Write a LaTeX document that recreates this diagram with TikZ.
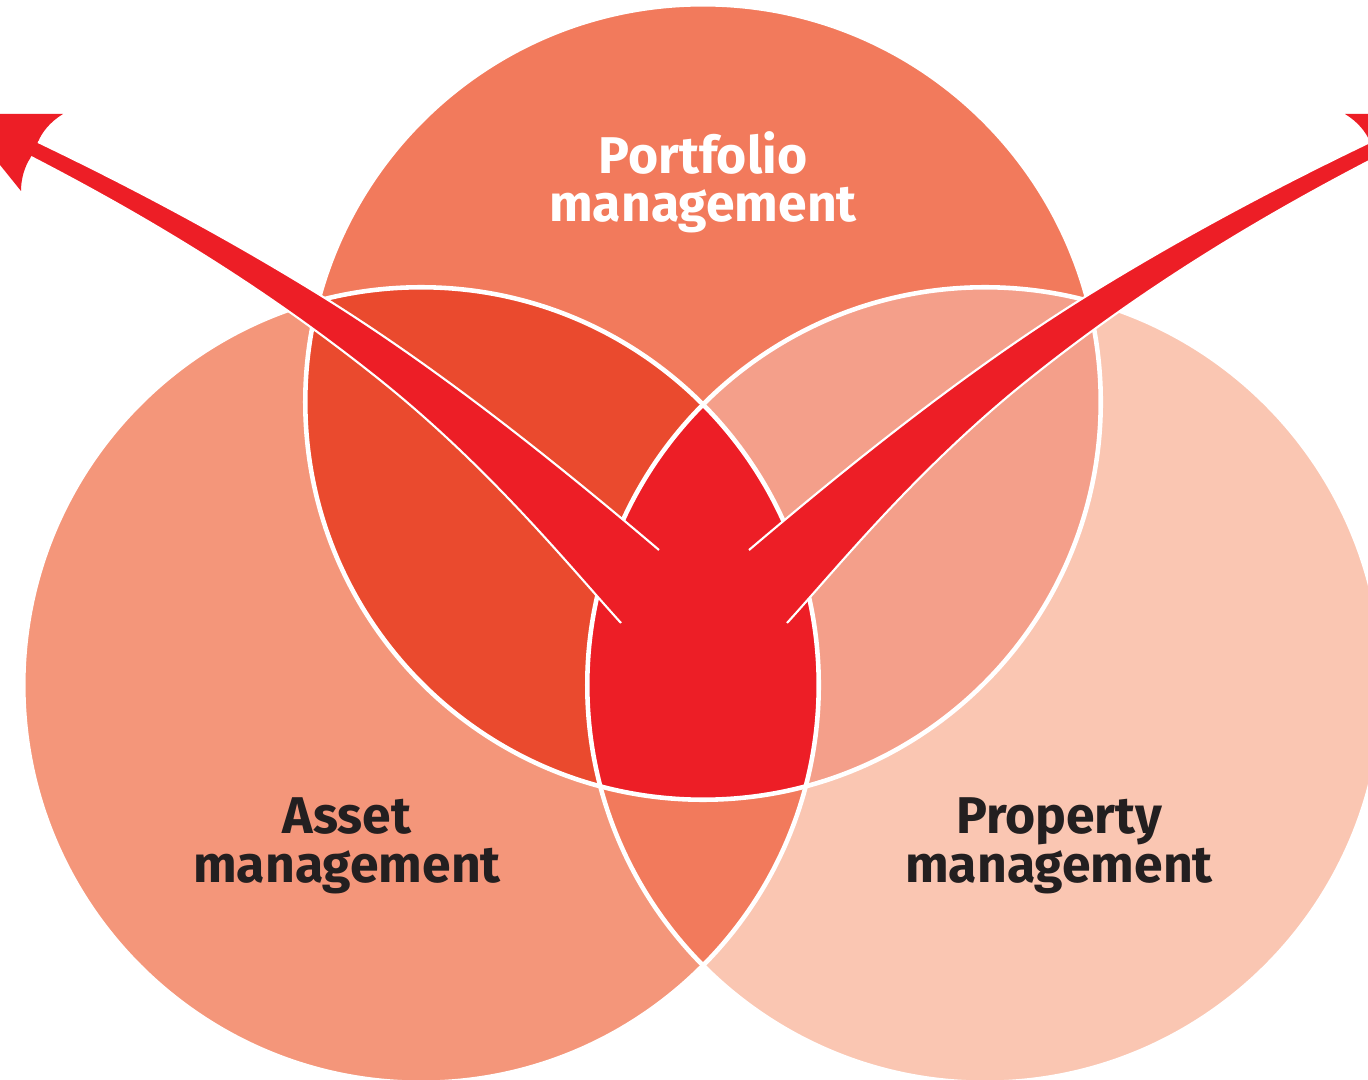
\documentclass[tikz,border=0pt]{standalone}
\usepackage{fontspec}
\setmainfont{Fira Sans}

\definecolor{portfolio}{HTML}{F27A5C}
\definecolor{asset}{HTML}{F4967A}
\definecolor{property}{HTML}{FAC6B2}
\definecolor{portasset}{HTML}{EA4A2E}
\definecolor{portprop}{HTML}{F49F8A}
\definecolor{assetprop}{HTML}{F27A5C}
\definecolor{core}{HTML}{ED1E26}
\definecolor{inktext}{HTML}{231F20}

\tikzset{
  ring/.style={white,line width=1.3pt},
  rim/.style={white,line width=0.6pt},
  lbl/.style={font=\fontsize{14.7}{13.8}\selectfont\bfseries,align=center,anchor=base,text=inktext}
}

\begin{document}
\begin{tikzpicture}[x=0.01cm,y=-0.01cm]
	\useasboundingbox (0,0) rectangle (1368,1080);
	\clip (0,0) rectangle (1368,1080);
	\fill[white] (0,0) rectangle (1368,1080);

	% circle centres
	\coordinate (pc) at (703,402);
	\coordinate (ac) at (421,685);
	\coordinate (rc) at (985,685);
	\def\rad{3.975cm}

	% single circles
	\fill[asset]     (ac) circle[radius=\rad];
	\fill[property]  (rc) circle[radius=\rad];
	\fill[portfolio] (pc) circle[radius=\rad];

	% overlaps
	\begin{scope}
		\clip (pc) circle[radius=\rad];
		\fill[portasset] (ac) circle[radius=\rad];
		\fill[portprop]  (rc) circle[radius=\rad];
	\end{scope}
	\begin{scope}
		\clip (ac) circle[radius=\rad];
		\fill[assetprop] (rc) circle[radius=\rad];
	\end{scope}
	\begin{scope}
		\clip (pc) circle[radius=\rad];
		\clip (ac) circle[radius=\rad];
		\fill[core] (rc) circle[radius=\rad];
	\end{scope}

	% white outlines
	\foreach \c in {pc,ac,rc}
		\draw[ring] (\c) circle[radius=\rad];

	% the two swoosh arrows (right one mirrored)
	\foreach \s/\o in {1/0,-1/1408}{
		\begin{scope}[shift={(\o,0)},xscale=\s]
			\fill[core] (659,550) .. controls (546,454) and (433,365) .. (320,295)
				.. controls (226,237) and (132,187) .. (38,142)
				.. controls (42,132) and (50,122) .. (63,114) -- (-41,114) -- (21,191)
				.. controls (21,180) and (24,167) .. (31,157)
				.. controls (147,217) and (264,287) .. (380,380)
				.. controls (490,468) and (571,568) .. (621,623) -- cycle;
			\draw[rim] (659,550) .. controls (546,454) and (433,365) .. (320,295)
				.. controls (226,237) and (132,187) .. (38,142);
			\draw[rim] (31,157) .. controls (147,217) and (264,287) .. (380,380)
				.. controls (490,468) and (571,568) .. (621,623);
		\end{scope}
	}

	% labels
	\node[lbl,text=white] (portlbl) at (703,222) {Portfolio\\management};
	\node[lbl] (assetlbl) at (347,882) {Asset\\management};
	\node[lbl] (proplbl) at (1059,882) {Property\\management};
\end{tikzpicture}
\end{document}
